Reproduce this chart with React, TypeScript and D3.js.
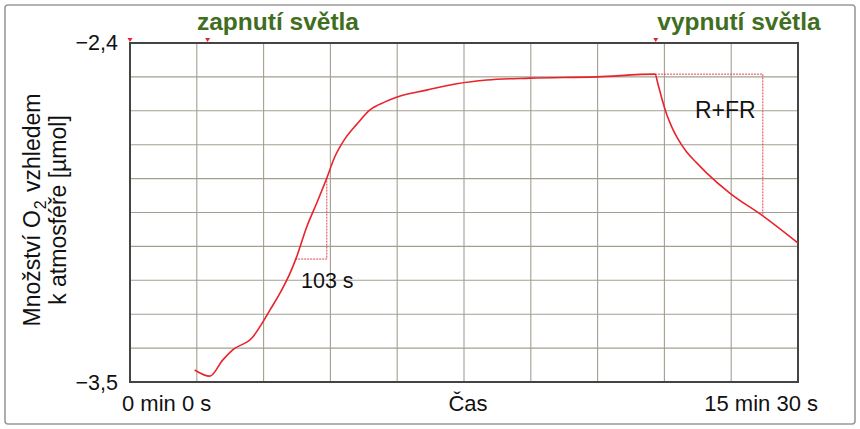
import * as d3 from "d3";

// O2 trace (time in s, amount in µmol)
const timeS = [
  90, 111, 129, 143, 171, 184, 195, 209, 223, 232, 246, 260, 274, 285, 299,
  316, 334, 355, 372, 413, 455, 497, 557, 650, 731, 735, 741, 748, 755, 762,
  775, 789, 803, 835, 881, 930,
];
const o2Umol = [
  -3.461, -3.481, -3.429, -3.396, -3.354, -3.309, -3.266, -3.211, -3.146,
  -3.094, -2.997, -2.919, -2.838, -2.77, -2.712, -2.663, -2.617, -2.591,
  -2.575, -2.553, -2.532, -2.52, -2.514, -2.51, -2.501, -2.533, -2.585, -2.637,
  -2.676, -2.708, -2.754, -2.789, -2.822, -2.887, -2.961, -3.049,
];

// light on / off markers on the top edge
const markerTimes = [0, 108, 732];

// dotted helper boxes
const box103 = { t: [230, 274], v: [-3.101, -2.838] };
const boxRFR = { t: [731, 881], v: [-2.501, -2.961] };

const xTickLabels = ["0 min 0 s", "15 min 30 s"];
const yTickLabels = ["\u22122,4", "\u22123,5"];

const W = 860;
const H = 429;
const margin = { top: 43, right: 62, bottom: 47, left: 130 };

const App = () => {
  const x = d3
    .scaleLinear()
    .domain([0, 930])
    .range([margin.left, W - margin.right]);
  const y = d3
    .scaleLinear()
    .domain([-3.5, -2.4])
    .range([H - margin.bottom, margin.top]);

  const xGrid = d3.range(0, 11).map((i) => i * 93);
  const yGrid = d3.range(0, 11).map((i) => -3.5 + i * 0.11);

  const pts = timeS.map((t, i) => [t, o2Umol[i]] as [number, number]);
  const line = d3
    .line<[number, number]>()
    .x((d) => x(d[0]))
    .y((d) => y(d[1]))
    .curve(d3.curveMonotoneX);

  const font = "'Liberation Sans', Arial, Helvetica, sans-serif";
  const green = "#3f6e1f";
  const red = "#e8232b";

  return (
    <div style={{ position: "fixed", left: 0, top: 0 }}>
      <svg width={W} height={H} style={{ display: "block", fontFamily: font }}>
        <rect x={0} y={0} width={W} height={H} fill="#fff" />
        <rect
          x={5}
          y={5}
          width={850}
          height={419}
          rx={3}
          fill="#fff"
          stroke="#9a9a9a"
          strokeWidth={1.6}
        />

        {/* grid */}
        <g stroke="#a39f90" strokeWidth={1.1}>
          {xGrid.map((t) => (
            <line key={"gx" + t} x1={x(t)} x2={x(t)} y1={y(-3.5)} y2={y(-2.4)} />
          ))}
          {yGrid.map((v, i) => (
            <line key={"gy" + i} x1={x(0)} x2={x(930)} y1={y(v)} y2={y(v)} />
          ))}
        </g>

        {/* frame */}
        <rect
          x={x(0)}
          y={y(-2.4)}
          width={x(930) - x(0)}
          height={y(-3.5) - y(-2.4)}
          fill="none"
          stroke="#444"
          strokeWidth={2}
        />

        {/* markers */}
        {markerTimes.map((t) => (
          <path
            key={"m" + t}
            d={`M${x(t) - 2.5},${y(-2.4) - 5}L${x(t) + 2.5},${y(-2.4) - 5}L${x(t)},${y(-2.4) - 1}Z`}
            fill={red}
          />
        ))}

        {/* dotted boxes */}
        <g fill="none" stroke="#e0444a" strokeWidth={1} strokeDasharray="2,1">
          <path
            d={`M${x(box103.t[0])},${y(box103.v[0])}H${x(box103.t[1])}V${y(box103.v[1])}`}
          />
          <path
            d={`M${x(boxRFR.t[0])},${y(boxRFR.v[0])}H${x(boxRFR.t[1])}V${y(boxRFR.v[1])}`}
          />
        </g>

        {/* trace */}
        <path d={line(pts) ?? ""} fill="none" stroke={red} strokeWidth={1.6} />

        {/* annotations */}
        <text x={301} y={288} fontSize={21.5} fill="#111">
          103 s
        </text>
        <text x={695} y={118} fontSize={23} fill="#111">
          R+FR
        </text>

        <text x={278} y={30} fontSize={24.5} fontWeight="bold" fill={green} textAnchor="middle">
          zapnutí světla
        </text>
        <text x={739} y={30} fontSize={24.5} fontWeight="bold" fill={green} textAnchor="middle">
          vypnutí světla
        </text>

        {/* y tick labels */}
        <text x={118} y={y(-2.4) + 7} fontSize={21.5} textAnchor="end" fill="#111">
          {yTickLabels[0]}
        </text>
        <text x={118} y={y(-3.5) + 8} fontSize={21.5} textAnchor="end" fill="#111">
          {yTickLabels[1]}
        </text>

        {/* x labels */}
        <text x={122} y={411} fontSize={22} fill="#111">
          {xTickLabels[0]}
        </text>
        <text x={818} y={411} fontSize={22} textAnchor="end" fill="#111">
          {xTickLabels[1]}
        </text>
        <text x={468} y={411} fontSize={22} textAnchor="middle" fill="#111">
          Čas
        </text>

        {/* y axis title */}
        <g transform="translate(40,210) rotate(-90)">
          <text x={0} y={0} fontSize={23} textAnchor="middle" fill="#111">
            Množství O<tspan fontSize={16} dy={6} dx={1}>2</tspan>
            <tspan dy={-6} dx={2}> vzhledem</tspan>
          </text>
          <text x={0} y={26} fontSize={23} textAnchor="middle" fill="#111">
            k atmosféře [µmol]
          </text>
        </g>
      </svg>
    </div>
  );
};

export default App;
